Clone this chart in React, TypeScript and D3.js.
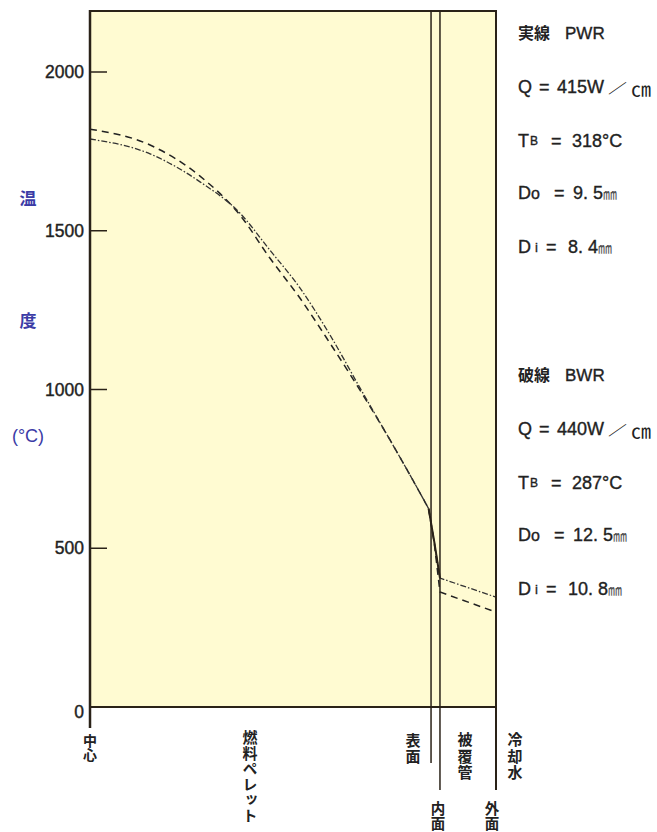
import React from 'react';
import * as d3 from 'd3';

const W = 657;
const H = 832;

// y axis
const yTicks = [0, 500, 1000, 1500, 2000];
const yTopValue = 2192;

// radial positions (schematic, % of drawing width): centre, pellet surface, clad inner, clad outer
const boundaryPos = [0, 84, 86.2, 100];

// PWR (solid) fuel part + gap/clad part
const pwrFuelX = [0, 14.8, 27.1, 36.9, 44.3, 51.7, 59.1, 66.5, 73.9, 78.8, 83.4];
const pwrFuelT = [1789, 1742, 1654, 1556, 1439, 1320, 1172, 1005, 841, 731, 625];
const pwrCladX = [83.4, 84.8, 86.2, 100];
const pwrCladT = [625, 520, 406, 346];

// BWR (dashed)
const bwrFuelX = [0, 14.8, 27.1, 36.9, 44.3, 51.7, 59.1, 66.5, 73.9, 78.8, 83.4];
const bwrFuelT = [1820, 1770, 1672, 1550, 1414, 1288, 1146, 998, 841, 731, 625];
const bwrCladX = [83.4, 84.8, 86.2, 100];
const bwrCladT = [625, 515, 362, 299];

const pwrTitle = ['実線', 'PWR'];
const pwrQ = ['415W', '／', '㎝'];
const pwrTB = '318°C';
const pwrDo = ['9. 5', '㎜'];
const pwrDi = ['8. 4', '㎜'];

const bwrTitle = ['破線', 'BWR'];
const bwrQ = ['440W', '／', '㎝'];
const bwrTB = '287°C';
const bwrDo = ['12. 5', '㎜'];
const bwrDi = ['10. 8', '㎜'];

const yTitle = ['温', '度', '(°C)'];

const zip = (xs: number[], ys: number[]) => xs.map((x, i) => [x, ys[i]] as [number, number]);

const CJK = '"Noto Sans CJK JP", "Noto Sans", sans-serif';
const LAT = '"Liberation Sans", Arial, sans-serif';
const INK = '#222';

function VerticalLabel({ x, y, text, size = 15, spacing = 0.5 }: { x: number; y: number; text: string; size?: number; spacing?: number }) {
  return (
    <text
      x={x}
      y={y}
      textAnchor="start"
      dominantBaseline="central"
      fontFamily={CJK}
      fontWeight={700}
      fontSize={size}
      letterSpacing={spacing}
      fill={INK}
      style={{ writingMode: 'vertical-rl' } as React.CSSProperties}
    >
      {text}
    </text>
  );
}

const latin = { fontFamily: LAT, fontSize: 18, fill: INK, stroke: INK, strokeWidth: 0.35 };

function ParamBlock({ y0, title, q, tb, dOut, dIn }: { y0: number; title: string[]; q: string[]; tb: string; dOut: string[]; dIn: string[] }) {
  const ys = [y0, y0 + 55, y0 + 109, y0 + 161, y0 + 215];
  return (
    <g dominantBaseline="central">
      <text x={518} y={ys[0]} fontFamily={CJK} fontWeight={700} fontSize={16} fill={INK}>{title[0]}</text>
      <text x={565} y={ys[0] + 1} {...latin} fontSize={17}>{title[1]}</text>

      <text x={518} y={ys[1]} {...latin}>Q</text>
      <text x={539} y={ys[1]} {...latin}>=</text>
      <text x={557} y={ys[1]} {...latin}>{q[0]}</text>
      <text x={608} y={ys[1]} fontFamily={CJK} fontSize={19} fill={INK} transform={`translate(0 ${ys[1]}) scale(1 0.7) translate(0 ${-ys[1]})`}>{q[1]}</text>
      <text x={631} y={ys[1] + 1} fontFamily={CJK} fontSize={20} fill={INK}>{q[2]}</text>

      <text x={518} y={ys[2]} {...latin}>T<tspan fontSize={12} dx={1}>B</tspan></text>
      <text x={551} y={ys[2]} {...latin}>=</text>
      <text x={572} y={ys[2]} {...latin}>{tb}</text>

      <text x={518} y={ys[3]} {...latin}>D<tspan fontSize={16}>o</tspan></text>
      <text x={554} y={ys[3]} {...latin}>=</text>
      <text x={573} y={ys[3]} {...latin} style={{ whiteSpace: 'pre' }}>{dOut[0]}<tspan fontFamily={CJK} fontSize={14} stroke="none" fill="#555">{dOut[1]}</tspan></text>

      <text x={518} y={ys[4]} {...latin}>D<tspan fontSize={13} dx={4}>i</tspan></text>
      <text x={546} y={ys[4]} {...latin}>=</text>
      <text x={568} y={ys[4]} {...latin} style={{ whiteSpace: 'pre' }}>{dIn[0]}<tspan fontFamily={CJK} fontSize={14} stroke="none" fill="#555">{dIn[1]}</tspan></text>
    </g>
  );
}

export default function App() {
  const x = d3.scaleLinear().domain([0, 100]).range([90, 496]);
  const y = d3.scaleLinear().domain([0, 2000]).range([707, 72]);

  const smooth = d3
    .line<[number, number]>()
    .x((d) => x(d[0]))
    .y((d) => y(d[1]))
    .curve(d3.curveMonotoneX);
  const straight = d3
    .line<[number, number]>()
    .x((d) => x(d[0]))
    .y((d) => y(d[1]));

  const top = y(yTopValue);
  const bottom = y(0);
  const left = x(boundaryPos[0]);
  const right = x(boundaryPos[3]);
  const xs = x(boundaryPos[1]);
  const xi = x(boundaryPos[2]);

  const pwrDash = '6 2 1.5 2';
  const bwrDash = '7 5';
  const FR = '#2a2218';

  return (
    <svg width={W} height={H} style={{ position: 'absolute', left: 0, top: 0, background: '#fff' }}>
      <rect x={0} y={0} width={W} height={H} fill="#fff" />
      <rect x={left} y={top} width={right - left} height={bottom - top} fill="#fffbd2" />

      {/* curves */}
      <path d={smooth(zip(bwrFuelX, bwrFuelT)) || ''} fill="none" stroke="#222" strokeWidth={1.5} strokeDasharray={bwrDash} />
      <path d={straight(zip(bwrCladX, bwrCladT)) || ''} fill="none" stroke="#222" strokeWidth={1.5} strokeDasharray={bwrDash} />
      <path d={smooth(zip(pwrFuelX, pwrFuelT)) || ''} fill="none" stroke="#333" strokeWidth={1.3} strokeDasharray={pwrDash} />
      <path d={straight(zip(pwrCladX, pwrCladT)) || ''} fill="none" stroke="#333" strokeWidth={1.3} strokeDasharray={pwrDash} />
      <path d={straight(zip(pwrCladX.slice(0, 3), pwrCladT.slice(0, 3))) || ''} fill="none" stroke={FR} strokeWidth={2} />

      {/* frame */}
      <line x1={left} x2={right} y1={top} y2={top} stroke={FR} strokeWidth={2} />
      <line x1={left} x2={right} y1={bottom} y2={bottom} stroke={FR} strokeWidth={2} />
      <line x1={left} x2={left} y1={top - 1} y2={728} stroke={FR} strokeWidth={2.5} />
      <line x1={right} x2={right} y1={top - 1} y2={790} stroke={FR} strokeWidth={2} />
      <line x1={xs} x2={xs} y1={top} y2={763} stroke={FR} strokeWidth={1.5} />
      <line x1={xi} x2={xi} y1={top} y2={790} stroke={FR} strokeWidth={1.5} />

      {/* y ticks */}
      {yTicks.map((t) => (
        <g key={t}>
          {t > 0 && <line x1={left} x2={left + 17} y1={y(t)} y2={y(t)} stroke={FR} strokeWidth={1.5} />}
          <text
            x={84}
            y={y(t) + (t === 0 ? 5 : 0)}
            textAnchor="end"
            dominantBaseline="central"
            fontFamily={LAT}
            fontSize={17.5}
            fill={INK}
            stroke={INK}
            strokeWidth={0.4}
          >
            {t}
          </text>
        </g>
      ))}

      {/* y title */}
      {yTitle.map((s, i) => (
        <text
          key={s}
          x={28}
          y={[197, 319, 436][i]}
          textAnchor="middle"
          dominantBaseline="central"
          fontFamily={i < 2 ? CJK : LAT}
          fontWeight={i < 2 ? 700 : 400}
          fontSize={i < 2 ? 17 : 18}
          fill="#3b3ba6"
        >
          {s}
        </text>
      ))}

      {/* bottom labels */}
      <VerticalLabel x={left} y={734} text="中心" size={14} spacing={0} />
      <VerticalLabel x={250} y={730} text="燃料ペレット" size={15} spacing={0.5} />
      <VerticalLabel x={413} y={733} text="表面" size={15} spacing={1} />
      <VerticalLabel x={465} y={732} text="被覆管" size={15} spacing={1.5} />
      <VerticalLabel x={515} y={732} text="冷却水" size={15} spacing={1.5} />
      <VerticalLabel x={438} y={801} text="内面" size={14.5} spacing={0.5} />
      <VerticalLabel x={492} y={801} text="外面" size={14.5} spacing={0.5} />

      {/* parameters */}
      <ParamBlock y0={32} title={pwrTitle} q={pwrQ} tb={pwrTB} dOut={pwrDo} dIn={pwrDi} />
      <ParamBlock y0={374} title={bwrTitle} q={bwrQ} tb={bwrTB} dOut={bwrDo} dIn={bwrDi} />
    </svg>
  );
}
